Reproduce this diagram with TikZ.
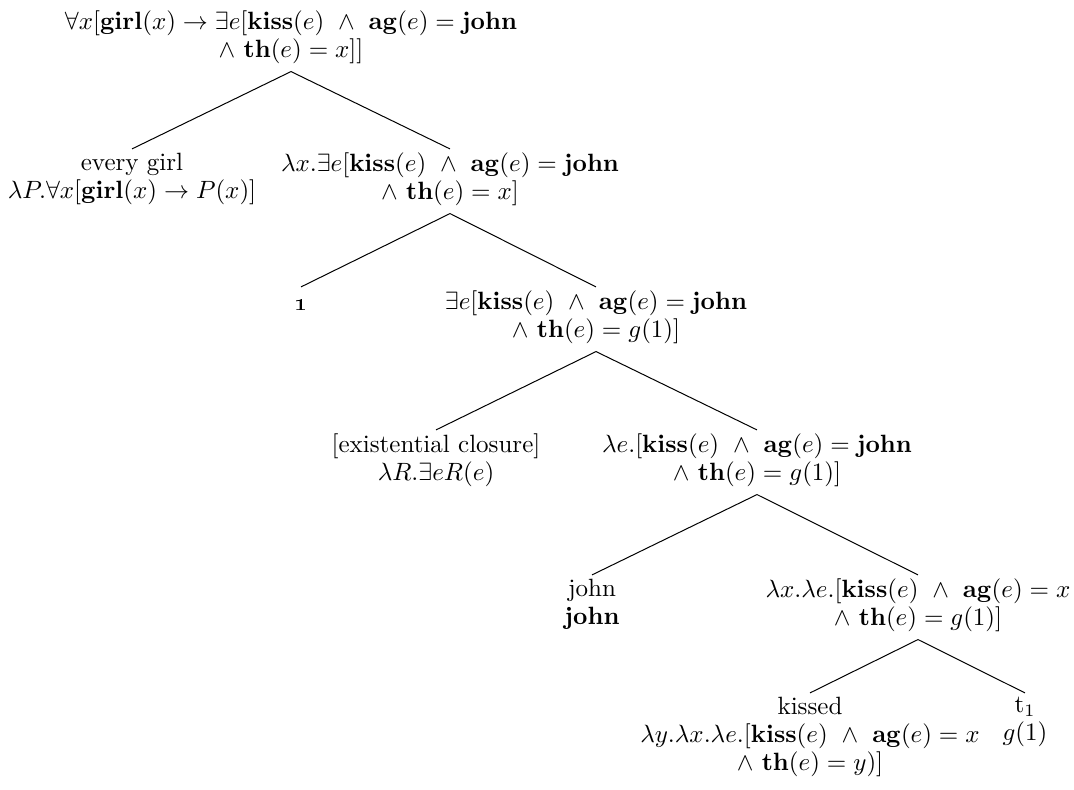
\documentclass[tikz,border=0pt]{standalone}
\usepackage{amsmath}
\begin{document}
\begin{tikzpicture}[x=0.4pt,y=-0.4pt,
  tn/.style={anchor=north,align=center,inner sep=0pt,
    font=\fontsize{10}{11.2}\selectfont,
    execute at begin node=\strut,execute at end node=\strut},
  br/.style={line width=0.4pt}]
\useasboundingbox (0,0) rectangle (1074,789);
\node[tn] (root) at (291,10.4) {$\forall x[\mathbf{girl}(x)\rightarrow\exists e[\mathbf{kiss}(e)\ \wedge\ \mathbf{ag}(e)=\mathbf{john}$\\ $\wedge$ $\mathbf{th}(e)=x]]$};
\node[tn] (eg) at (132,152.4) {every girl\\ $\lambda P.\forall x[\mathbf{girl}(x)\rightarrow P(x)]$};
\node[tn] (lx) at (450,152.4) {$\lambda x.\exists e[\mathbf{kiss}(e)\ \wedge\ \mathbf{ag}(e)=\mathbf{john}$\\ $\wedge$ $\mathbf{th}(e)=x]$};
\node[tn] (one) at (301,290.4) {\oldstylenums{1}};
\node[tn] (ex) at (596,290.4) {$\exists e[\mathbf{kiss}(e)\ \wedge\ \mathbf{ag}(e)=\mathbf{john}$\\ $\wedge$ $\mathbf{th}(e)=g(1)]$};
\node[tn] (ec) at (436,433.4) {[existential closure]\\ $\lambda R.\exists eR(e)$};
\node[tn] (le) at (757,433.4) {$\lambda e.[\mathbf{kiss}(e)\ \wedge\ \mathbf{ag}(e)=\mathbf{john}$\\ $\wedge$ $\mathbf{th}(e)=g(1)]$};
\node[tn] (john) at (592,578.4) {john\\ \textbf{john}};
\node[tn] (lxle) at (918,578.4) {$\lambda x.\lambda e.[\mathbf{kiss}(e)\ \wedge\ \mathbf{ag}(e)=x$\\ $\wedge$ $\mathbf{th}(e)=g(1)]$};
\node[tn] (kissed) at (810,696.4) {kissed\\ $\lambda y.\lambda x.\lambda e.[\mathbf{kiss}(e)\ \wedge\ \mathbf{ag}(e)=x$\\ $\wedge$ $\mathbf{th}(e)=y)]$};
\node[tn] (t1) at (1025,696.4) {t$_1$\\ $g(1)$};
\draw[br] ([yshift=-2pt]root.south) -- ([yshift=1.4pt]eg.north);
\draw[br] ([yshift=-2pt]root.south) -- ([yshift=1.4pt]lx.north);
\draw[br] ([yshift=-2pt]lx.south) -- ([yshift=1.4pt]one.north);
\draw[br] ([yshift=-2pt]lx.south) -- ([yshift=1.4pt]ex.north);
\draw[br] ([yshift=-2pt]ex.south) -- ([yshift=1.4pt]ec.north);
\draw[br] ([yshift=-2pt]ex.south) -- ([yshift=1.4pt]le.north);
\draw[br] ([yshift=-2pt]le.south) -- ([yshift=1.4pt]john.north);
\draw[br] ([yshift=-2pt]le.south) -- ([yshift=1.4pt]lxle.north);
\draw[br] ([yshift=-2pt]lxle.south) -- ([yshift=1.4pt]kissed.north);
\draw[br] ([yshift=-2pt]lxle.south) -- ([yshift=1.4pt]t1.north);
\end{tikzpicture}
\end{document}
